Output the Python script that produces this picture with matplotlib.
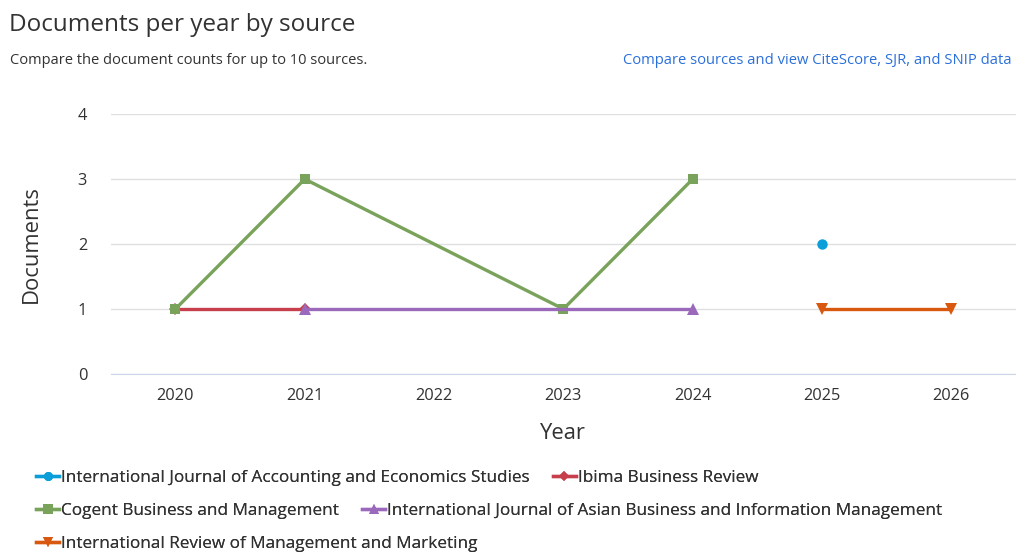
import matplotlib
matplotlib.use('Agg')
import matplotlib.pyplot as plt
from matplotlib.lines import Line2D

plt.rcParams['font.family'] = ['Open Sans', 'DejaVu Sans']

# Donnees
year_ticks = [2020, 2021, 2022, 2023, 2024, 2025, 2026]

names = [
    "International Journal of Accounting and Economics Studies",
    "Ibima Business Review",
    "Cogent Business and Management",
    "International Journal of Asian Business and Information Management",
    "International Review of Management and Marketing",
]
ijaes_years = [2025]
ijaes_docs = [2]
ibima_years = [2020, 2021]
ibima_docs = [1, 1]
cogent_years = [2020, 2021, 2023, 2024]
cogent_docs = [1, 3, 1, 3]
ijabim_years = [2021, 2024]
ijabim_docs = [1, 1]
irmm_years = [2025, 2026]
irmm_docs = [1, 1]

colors = ['#0c9ed9', '#c73f4c', '#79a25a', '#9b69bb', '#d9580f']
markers = ['o', 'D', 's', '^', 'v']
msizes = [7.5, 6.5, 7.5, 8, 8]

series = [(ijaes_years, ijaes_docs), (ibima_years, ibima_docs),
          (cogent_years, cogent_docs), (ijabim_years, ijabim_docs),
          (irmm_years, irmm_docs)]

text_col = '#323232'

fig = plt.figure(figsize=(10.16, 5.54), dpi=100)
ax = fig.add_axes([0.109, 0.325, 0.891, 0.469])

for i, (x, y) in enumerate(series):
    ax.plot(x, y, color=colors[i], marker=markers[i], markersize=msizes[i],
            linewidth=2.4, markeredgewidth=0, zorder=3 + i, clip_on=False)

ax.set_xlim(2019.5, 2026.5)
ax.set_ylim(0, 4)
ax.set_xticks(year_ticks)
ax.set_yticks([0, 1, 2, 3, 4])
ax.tick_params(axis='both', length=0, labelsize=11.8, labelcolor=text_col)
ax.tick_params(axis='x', pad=10)
ax.tick_params(axis='y', pad=17)
ax.grid(axis='y', color='#e0e0e0', linewidth=1)
for s in ['top', 'right', 'left']:
    ax.spines[s].set_visible(False)
ax.spines['bottom'].set_color('#ccd6eb')
ax.set_xlabel("Year", fontsize=15.8, color=text_col, labelpad=14)
ax.set_ylabel("Documents", fontsize=15.8, color=text_col, labelpad=26)

# Titres
fig.text(9 / 1016, 1 - 25 / 554, "Documents per year by source", fontsize=17.5,
         color=text_col, va='center', ha='left')
fig.text(10 / 1016, 1 - 61 / 554, "Compare the document counts for up to 10 sources.",
         fontsize=10.5, color=text_col, va='center', ha='left')
fig.text(1012 / 1016, 1 - 61 / 554, "Compare sources and view CiteScore, SJR, and SNIP data",
         fontsize=10.6, color='#2a6fdb', va='center', ha='right')

# Legende sur trois lignes
handles = [Line2D([0], [0], color=colors[i], marker=markers[i], markersize=msizes[i] - 1,
                  linewidth=2.4, markeredgewidth=0) for i in range(len(names))]
rows = [[0, 1], [2, 3], [4]]
row_y = [478, 511, 544]
for r, idx in enumerate(rows):
    leg = fig.legend([handles[k] for k in idx], [names[k] for k in idx],
                     loc='center left', bbox_to_anchor=(36 / 1016, 1 - row_y[r] / 554),
                     ncol=len(idx), frameon=False, fontsize=12.3, handlelength=1.35,
                     handletextpad=0.12, columnspacing=1.35, borderaxespad=0,
                     borderpad=0, labelcolor=text_col)
    fig.add_artist(leg)

fig.savefig("out.png", dpi=100)
